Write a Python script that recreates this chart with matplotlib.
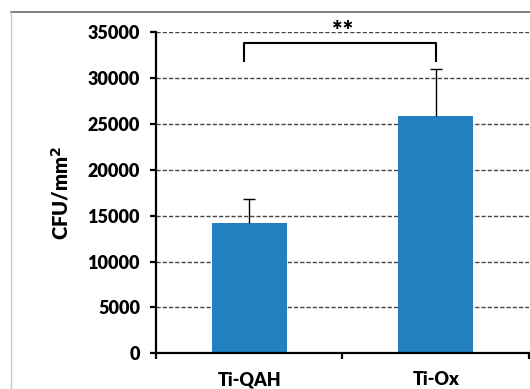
import matplotlib.pyplot as plt
from matplotlib.lines import Line2D

groups = ['Ti-QAH', 'Ti-Ox']
cfu_mean = [14200, 25900]
cfu_sd = [2650, 5150]
y_ticks = [0, 5000, 10000, 15000, 20000, 25000, 30000, 35000]

plt.rcParams['font.family'] = ['Lato', 'DejaVu Sans']
plt.rcParams['font.weight'] = 'heavy'

fig = plt.figure(figsize=(5.3, 3.89), dpi=100)
ax = fig.add_axes([0.2943, 0.0917, 0.7037, 0.8253])

# outer chart frame
fig.add_artist(Line2D([11 / 530, 1], [1 - 12 / 389] * 2, color='#6a6a6a', lw=1.2,
                      transform=fig.transFigure))
fig.add_artist(Line2D([11 / 530] * 2, [0, 1 - 12 / 389], color='#c8c8c8', lw=1.0,
                      transform=fig.transFigure))

x = list(range(len(groups)))
tops = [m + s for m, s in zip(cfu_mean, cfu_sd)]
ax.bar(x, cfu_mean, width=0.4, color='#2381c2', zorder=3)
# upper error bars only
ax.vlines(x, cfu_mean, tops, color='black', lw=1.0, zorder=4)
ax.plot(x, tops, ls='none', marker='_', markersize=8, mew=1.0, color='black', zorder=4)

ax.set_xlim(-0.5, 1.5)
ax.set_ylim(0, 35000)
ax.set_yticks(y_ticks)
ax.set_yticklabels([str(v) for v in y_ticks], fontsize=13, fontweight='heavy')

# category labels centred, ticks on the category boundaries
ax.set_xticks([-0.5, 0.5, 1.5])
ax.set_xticklabels([])
ax.set_xticks(x, minor=True)
ax.set_xticklabels(groups, minor=True, fontsize=13, fontweight='heavy')
ax.tick_params(axis='x', which='minor', length=0, pad=13)
ax.tick_params(axis='x', which='major', direction='out', length=4.5, width=1.6)
ax.tick_params(axis='y', direction='out', length=4.5, width=1.6, pad=7)

for v in y_ticks[1:]:
    ax.axhline(v, color='#444444', lw=1.0, ls=(0, (3, 1.5)), zorder=1)

for side in ['top', 'right']:
    ax.spines[side].set_visible(False)
for side in ['left', 'bottom']:
    ax.spines[side].set_linewidth(1.6)
    ax.spines[side].set_zorder(5)

ax.set_ylabel('CFU/mm$^\\mathbf{2}$', fontsize=14.5, fontweight='heavy', labelpad=12)

# significance bracket
ax.plot([-0.03, -0.03, 1.0, 1.0], [31900, 33800, 33800, 31900], color='black',
        lw=1.5, clip_on=False, zorder=6)
ax.text(0.5, 34400, '**', ha='center', va='baseline', fontsize=18, fontweight='heavy',
        clip_on=False)

fig.savefig('out.png', dpi=100)
